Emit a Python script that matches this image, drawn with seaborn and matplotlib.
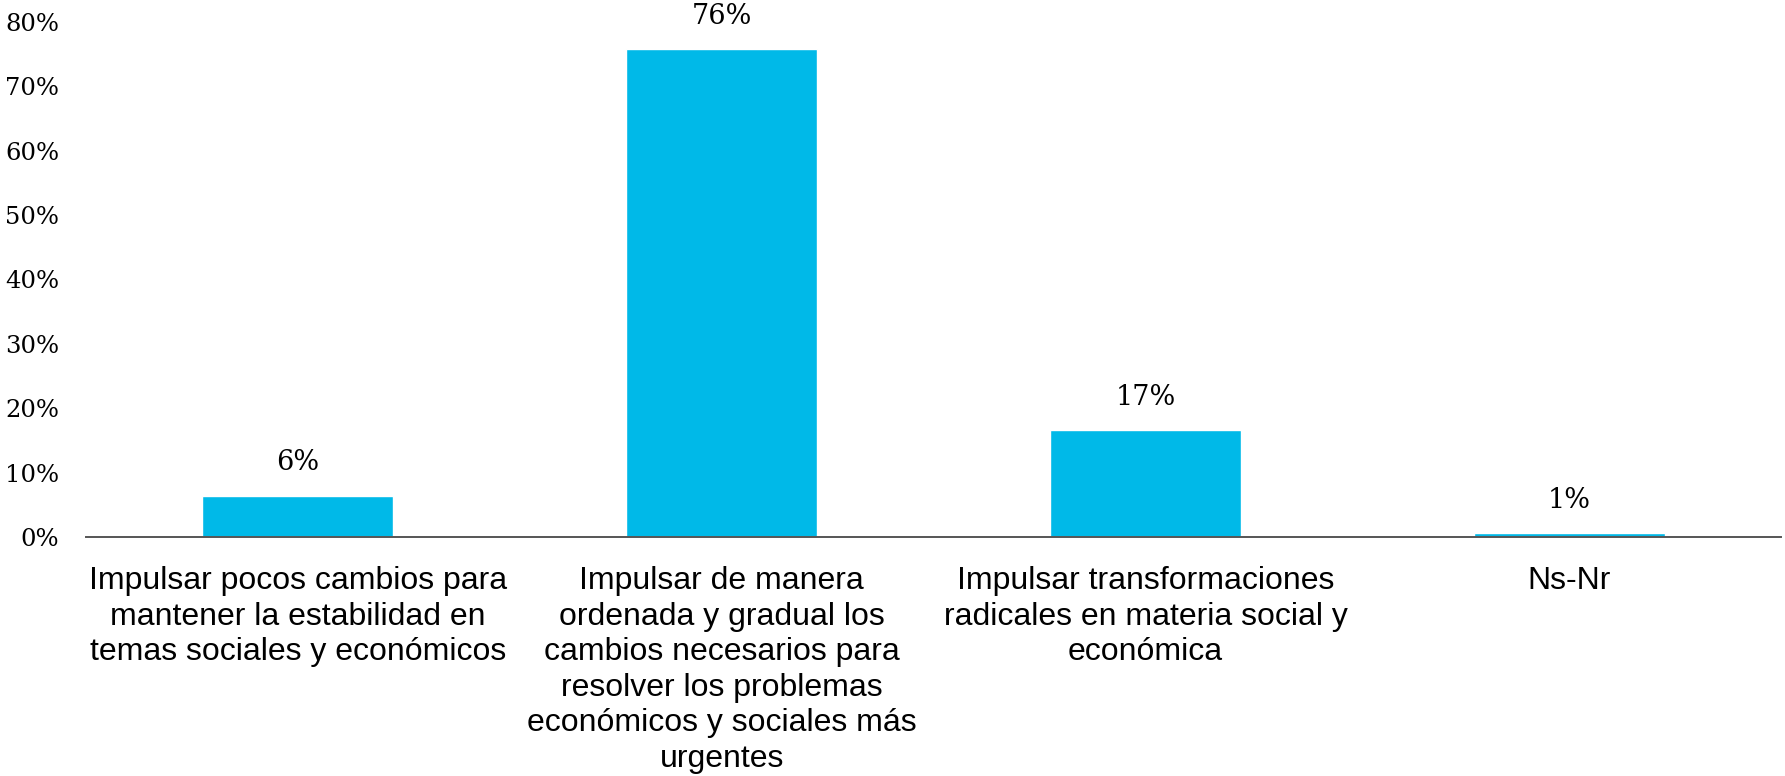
import matplotlib
matplotlib.use('Agg')
import matplotlib.pyplot as plt
import seaborn as sns
import pandas as pd
from matplotlib.ticker import PercentFormatter

#-------------------------------------------------------------------------------------------------------------
# Data
#-------------------------------------------------------------------------------------------------------------

categories = [
    'Impulsar pocos cambios para\nmantener la estabilidad en\ntemas sociales y económicos',
    'Impulsar de manera\nordenada y gradual los\ncambios necesarios para\nresolver los problemas\neconómicos y sociales más\nurgentes',
    'Impulsar transformaciones\nradicales en materia social y\neconómica',
    'Ns-Nr',
]
values = [6.4, 75.7, 16.6, 0.6]
value_labels = ['6%', '76%', '17%', '1%']
y_ticks = [0, 10, 20, 30, 40, 50, 60, 70, 80]

BAR_COLOUR = '#00B9E8'

#-------------------------------------------------------------------------------------------------------------
# Plot
#-------------------------------------------------------------------------------------------------------------

sns.set_style('white')
plt.rcParams['text.color'] = 'black'
plt.rcParams['xtick.color'] = 'black'
plt.rcParams['ytick.color'] = 'black'
df = pd.DataFrame({'category': categories, 'value': values})

fig = plt.figure(figsize=(17.85, 7.76), dpi=100)
ax = fig.add_axes([0.048, 0.308, 0.950, 0.664])

sns.barplot(data=df, x='category', y='value', color=BAR_COLOUR, width=0.45,
            saturation=1, ax=ax)

for patch, label in zip(ax.patches, value_labels):
    ax.annotate(label, (patch.get_x() + patch.get_width() / 2, patch.get_height()),
                xytext=(0, 14), textcoords='offset points', ha='center', va='bottom',
                fontsize=19.5, family='DejaVu Serif', color='black')

ax.set_ylim(0, 80)
ax.set_yticks(y_ticks)
ax.yaxis.set_major_formatter(PercentFormatter(decimals=0))
ax.set_xlim(-0.5, 3.5)

for side in ['top', 'right', 'left']:
    ax.spines[side].set_visible(False)
ax.spines['bottom'].set_color('#555555')
ax.spines['bottom'].set_linewidth(1.4)

ax.set_xlabel('')
ax.set_ylabel('')
ax.tick_params(axis='y', length=0, pad=19, labelsize=17.5, labelcolor='black')
ax.tick_params(axis='x', length=0, pad=21, labelsize=23, labelcolor='black')
for t in ax.get_yticklabels():
    t.set_family('DejaVu Serif')
for t in ax.get_xticklabels():
    t.set_family('Liberation Sans')
    t.set_linespacing(1.24)

fig.savefig('out.png', dpi=100)
